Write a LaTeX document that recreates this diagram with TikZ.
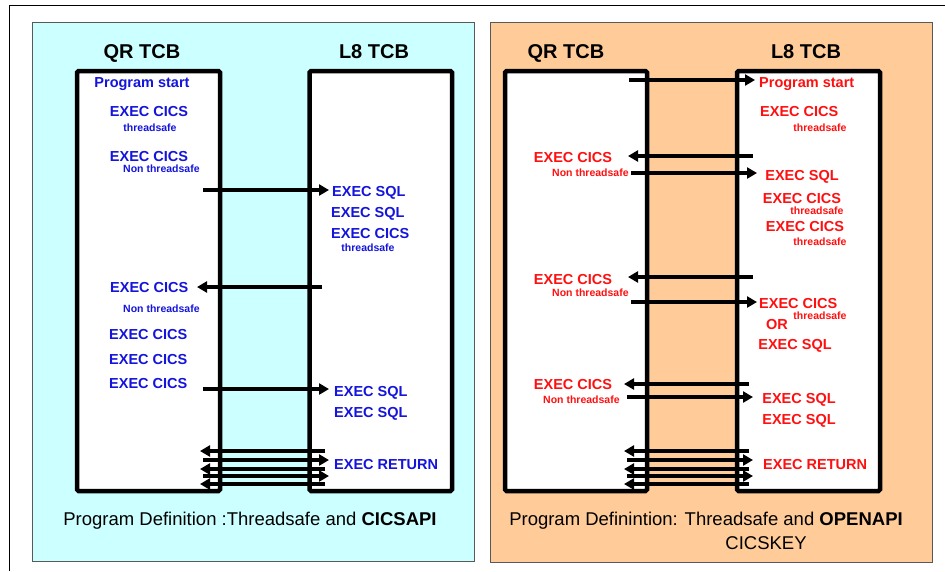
\documentclass[tikz,border=0pt]{standalone}
\usepackage{fontspec}
\setmainfont{Liberation Sans}
\usetikzlibrary{arrows.meta}
\definecolor{panelcyan}{HTML}{CCFFFF}
\definecolor{panelpeach}{HTML}{FFCC99}
\definecolor{txtblue}{HTML}{1414DC}
\definecolor{txtred}{HTML}{FF1010}
\tikzset{
  frameline/.style={line width=1pt, black},
  panel/.style={draw=gray!70!black, line width=0.8pt},
  tcbbox/.style={draw=black, fill=white, line width=4.5pt, rounded corners=1.5pt},
  arr/.style={line width=3.3pt, -{Triangle[length=10pt,width=11pt]}},
  title/.style={font=\fontsize{20}{22}\selectfont\bfseries, inner sep=0pt, text=black},
  lbl/.style={font=\fontsize{14.5}{16}\selectfont\bfseries, inner sep=0pt},
  small/.style={font=\fontsize{10.5}{12}\selectfont\bfseries, inner sep=0pt},
  caption/.style={font=\fontsize{18.5}{21}\selectfont, inner sep=0pt, text=black},
  blu/.style={text=txtblue},
  rd/.style={text=txtred}
}
\begin{document}
\begin{tikzpicture}[x=1pt,y=-1pt]
\useasboundingbox (0,0) rectangle (945,571);
% outer frame
\coordinate (fa) at (9.5,571);
\coordinate (fb) at (9.5,5);
\coordinate (fc) at (945,5);
\draw[frameline] (fa) -- (fb) -- (fc);
% panels
\draw[panel, fill=panelcyan] (32,22) rectangle (474,561);
\draw[panel, fill=panelpeach] (490,22) rectangle (932,562);
% TCB boxes
\draw[tcbbox] (77,71) rectangle (220,491);
\draw[tcbbox] (309.5,71) rectangle (452,491);
\draw[tcbbox] (505,71) rectangle (647,491);
\draw[tcbbox] (737,71) rectangle (880,491);

% ===== Left panel texts =====
\node[title, anchor=base] (lqr) at (142,58) {QR TCB};
\node[title, anchor=base] (ll8) at (374,58) {L8 TCB};
\node[lbl, blu, anchor=base] (lps) at (142,87) {Program start};
\node[lbl, blu, anchor=base] (lc1) at (149,116) {EXEC CICS};
\node[small, blu, anchor=base] (lt1) at (150,131) {threadsafe};
\node[lbl, blu, anchor=base] (lc2) at (149,161.5) {EXEC CICS};
\node[small, blu, anchor=base west] (ln1) at (123,172) {Non threadsafe};
\node[lbl, blu, anchor=base west] (ls1) at (332,196) {EXEC SQL};
\node[lbl, blu, anchor=base west] (ls2) at (331,217) {EXEC SQL};
\node[lbl, blu, anchor=base west] (lc3) at (331,238) {EXEC CICS};
\node[small, blu, anchor=base] (lt2) at (368,251) {threadsafe};
\node[lbl, blu, anchor=base west] (lc4) at (110,292) {EXEC CICS};
\node[small, blu, anchor=base west] (ln2) at (123,312) {Non threadsafe};
\node[lbl, blu, anchor=base west] (lc5) at (109,339) {EXEC CICS};
\node[lbl, blu, anchor=base west] (lc6) at (109,364) {EXEC CICS};
\node[lbl, blu, anchor=base west] (lc7) at (109,388) {EXEC CICS};
\node[lbl, blu, anchor=base west] (ls3) at (334,396) {EXEC SQL};
\node[lbl, blu, anchor=base west] (ls4) at (334,417) {EXEC SQL};
\node[lbl, blu, anchor=base west] (lret) at (334,469) {EXEC RETURN};
\node[caption, anchor=base] (lcap) at (250,525) {Program Definition :Threadsafe and \textbf{CICSAPI}};

% left arrows
\coordinate (la1s) at (203,190); \coordinate (la1e) at (329,190);
\coordinate (la2s) at (322,287); \coordinate (la2e) at (197,287);
\coordinate (la3s) at (203,389); \coordinate (la3e) at (329,389);
\draw[arr] (la1s) -- (la1e);
\draw[arr] (la2s) -- (la2e);
\draw[arr] (la3s) -- (la3e);
\coordinate (lr1s) at (325,451); \coordinate (lr1e) at (200,451);
\coordinate (lr2s) at (203,460); \coordinate (lr2e) at (329,460);
\coordinate (lr3s) at (325,469); \coordinate (lr3e) at (200,469);
\coordinate (lr4s) at (203,476); \coordinate (lr4e) at (329,476);
\coordinate (lr5s) at (325,484); \coordinate (lr5e) at (200,484);
\draw[arr] (lr1s) -- (lr1e);
\draw[arr] (lr2s) -- (lr2e);
\draw[arr] (lr3s) -- (lr3e);
\draw[arr] (lr4s) -- (lr4e);
\draw[arr] (lr5s) -- (lr5e);

% ===== Right panel texts =====
\node[title, anchor=base] (rqr) at (566,58) {QR TCB};
\node[title, anchor=base] (rl8) at (806,58) {L8 TCB};
\node[lbl, rd, anchor=base west] (rps) at (759,87) {Program start};
\node[lbl, rd, anchor=base west] (rc1) at (760,116) {EXEC CICS};
\node[small, rd, anchor=base] (rt1) at (820,131) {threadsafe};
\node[lbl, rd, anchor=base] (rc2) at (573,162) {EXEC CICS};
\node[small, rd, anchor=base west] (rn1) at (552,176) {Non threadsafe};
\node[lbl, rd, anchor=base] (rs1) at (802,180) {EXEC SQL};
\node[lbl, rd, anchor=base] (rc3) at (802,203.5) {EXEC CICS};
\node[small, rd, anchor=base] (rt2) at (817,214) {threadsafe};
\node[lbl, rd, anchor=base] (rc4) at (805,231) {EXEC CICS};
\node[small, rd, anchor=base] (rt3) at (820,245) {threadsafe};
\node[lbl, rd, anchor=base] (rc5) at (573,284) {EXEC CICS};
\node[small, rd, anchor=base west] (rn2) at (552,296) {Non threadsafe};
\node[lbl, rd, anchor=base west] (rc6) at (759,308) {EXEC CICS};
\node[small, rd, anchor=base] (rt4) at (820,319) {threadsafe};
\node[lbl, rd, anchor=base] (ror) at (777,329) {OR};
\node[lbl, rd, anchor=base] (rs2) at (795,349) {EXEC SQL};
\node[lbl, rd, anchor=base] (rc7) at (573,389) {EXEC CICS};
\node[small, rd, anchor=base west] (rn3) at (543,403) {Non threadsafe};
\node[lbl, rd, anchor=base] (rs3) at (799,403) {EXEC SQL};
\node[lbl, rd, anchor=base] (rs4) at (799,424) {EXEC SQL};
\node[lbl, rd, anchor=base west] (rret) at (763,469) {EXEC RETURN};
\node[caption, anchor=base] (rcap) at (706,525) {Program Definintion: Threadsafe and \textbf{OPENAPI}};
\node[caption, anchor=base] (rkey) at (766,549) {CICSKEY};

% right arrows
\coordinate (ra1s) at (629,80); \coordinate (ra1e) at (755,80);
\coordinate (ra2s) at (753,156); \coordinate (ra2e) at (628,156);
\coordinate (ra3s) at (631,173); \coordinate (ra3e) at (757,173);
\coordinate (ra4s) at (753,277); \coordinate (ra4e) at (628,277);
\coordinate (ra5s) at (631,302); \coordinate (ra5e) at (757,302);
\coordinate (ra6s) at (749,384); \coordinate (ra6e) at (624,384);
\coordinate (ra7s) at (627,397); \coordinate (ra7e) at (753,397);
\draw[arr] (ra1s) -- (ra1e);
\draw[arr] (ra2s) -- (ra2e);
\draw[arr] (ra3s) -- (ra3e);
\draw[arr] (ra4s) -- (ra4e);
\draw[arr] (ra5s) -- (ra5e);
\draw[arr] (ra6s) -- (ra6e);
\draw[arr] (ra7s) -- (ra7e);
\coordinate (rr1s) at (749,451); \coordinate (rr1e) at (624,451);
\coordinate (rr2s) at (627,460); \coordinate (rr2e) at (753,460);
\coordinate (rr3s) at (749,469); \coordinate (rr3e) at (624,469);
\coordinate (rr4s) at (627,476); \coordinate (rr4e) at (753,476);
\coordinate (rr5s) at (749,484); \coordinate (rr5e) at (624,484);
\draw[arr] (rr1s) -- (rr1e);
\draw[arr] (rr2s) -- (rr2e);
\draw[arr] (rr3s) -- (rr3e);
\draw[arr] (rr4s) -- (rr4e);
\draw[arr] (rr5s) -- (rr5e);
\end{tikzpicture}
\end{document}
